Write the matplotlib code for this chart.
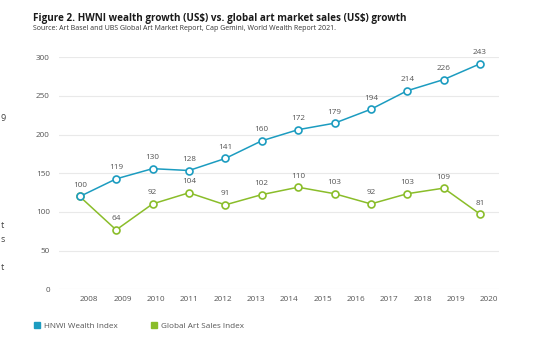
import numpy as np
import matplotlib
matplotlib.use("Agg")
import matplotlib.pyplot as plt
from matplotlib.lines import Line2D

plt.rcParams["font.family"] = ["Open Sans", "DejaVu Sans"]

# ── data
years = ["2008", "2009", "2010", "2011", "2012", "2013", "2014",
         "2015", "2016", "2017", "2018", "2019", "2020"]
hnwi_index = [100, 119, 130, 128, 141, 160, 172, 179, 194, 214, 226, 243]
art_index  = [100, 64, 92, 104, 91, 102, 110, 103, 92, 103, 109, 81]
ytick_values = [0, 50, 100, 150, 200, 250, 300]

# axis labels run 1.2x the plotted index
AXIS_SCALE = 1.2

BLUE_HEX  = "#1c9cc0"
GREEN_HEX = "#8abd2a"
TEXT_HEX  = "#555555"
GRID_HEX  = "#e9e9e9"
LABEL_FS  = 5.9

fig = plt.figure(figsize=(5.4, 3.39), dpi=100)
ax = fig.add_axes([0.1093, 0.1466, 0.8148, 0.6844])

x = np.arange(len(hnwi_index))
for vals, color in ((art_index, GREEN_HEX), (hnwi_index, BLUE_HEX)):
    ax.plot(x, vals, color=color, lw=1.1, marker="o", ms=5,
            mfc="white", mec=color, mew=1.2, zorder=3)

# value labels above each point (2008 is shared, label once)
for i, v in enumerate(hnwi_index):
    ax.annotate(str(v), (x[i], v), xytext=(0, 8), textcoords="offset points",
                ha="center", va="center", fontsize=LABEL_FS, color=TEXT_HEX)
for i, v in enumerate(art_index):
    if i == 0:
        continue
    ax.annotate(str(v), (x[i], v), xytext=(0, 8), textcoords="offset points",
                ha="center", va="center", fontsize=LABEL_FS, color=TEXT_HEX)

ax.set_xlim(-0.57, 11.52)
ax.set_ylim(0, ytick_values[-1] / AXIS_SCALE)
ax.set_yticks(np.array(ytick_values) / AXIS_SCALE, labels=[str(t) for t in ytick_values])
ax.set_xticks(np.linspace(0.26, 11.25, len(years)), labels=years)
ax.tick_params(axis="both", length=0, labelsize=LABEL_FS, labelcolor=TEXT_HEX)
ax.tick_params(axis="y", pad=6.5)
ax.tick_params(axis="x", pad=4.5)
for s in ax.spines.values():
    s.set_visible(False)
ax.yaxis.grid(True, color=GRID_HEX, lw=0.8)
ax.set_axisbelow(True)

# title + source
fig.text(33 / 540, 1 - 18 / 339,
         r"Figure 2. HWNI wealth growth (US\$) vs. global art market sales (US\$) growth",
         fontsize=7.1, fontweight="bold", color="#1a1a1a", va="center", ha="left")
fig.text(33 / 540, 1 - 28.5 / 339,
         "Source: Art Basel and UBS Global Art Market Report, Cap Gemini, World Wealth Report 2021.",
         fontsize=5.0, color="#333333", va="center", ha="left")

# stray characters from the neighbouring column
for ch, ypx in (("9", 119), ("t", 226), ("s", 240), ("t", 267)):
    fig.text(0.5 / 540, 1 - ypx / 339, ch, fontsize=6.5, color="#444444",
             va="center", ha="left")

handles = [
    Line2D([], [], ls="none", marker="s", ms=5, color=BLUE_HEX),
    Line2D([], [], ls="none", marker="s", ms=5, color=GREEN_HEX),
]
fig.legend(handles, ["HNWI Wealth Index", "Global Art Sales Index"],
           loc="center left", bbox_to_anchor=(27 / 540, 1 - 326 / 339),
           ncol=2, frameon=False, fontsize=LABEL_FS, handlelength=0.6,
           handletextpad=0.6, columnspacing=4.1, labelcolor=TEXT_HEX)

fig.savefig("out.png", dpi=100)
